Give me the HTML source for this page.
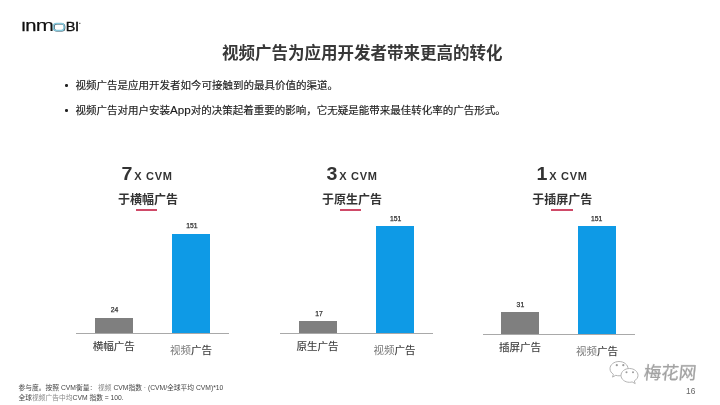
<!DOCTYPE html>
<html lang="zh">
<head>
<meta charset="utf-8">
<title>视频广告为应用开发者带来更高的转化</title>
<style>
html,body{margin:0;padding:0;}
body{width:720px;height:405px;overflow:hidden;background:#fff;position:relative;font-family:"Liberation Sans","Noto Sans CJK SC",sans-serif;color:#333;}
.abs{position:absolute;white-space:nowrap;}
.title{left:222px;top:40px;font-size:16.5px;font-weight:700;color:#383838;line-height:26px;}
.bul{font-size:10.5px;line-height:16px;color:#1c1c1c;left:75.5px;-webkit-text-stroke:.15px #1c1c1c;}
.bul i{font-style:normal;font-size:11.6px;}
.dot{width:2.4px;height:2.4px;border-radius:50%;background:#222;left:65.3px;}
.big{font-weight:700;color:#333;text-align:center;line-height:26px;width:120px;top:160.5px;}
.big .n{font-size:17.5px;display:inline-block;transform:scaleX(1.12);margin-right:.6px;}
.big .x{font-size:11px;letter-spacing:.7px;margin-left:1.5px;}
.sub{font-weight:700;font-size:12px;text-align:center;line-height:18px;color:#333;width:120px;top:191px;}
.red{height:1.5px;background:#cf4a68;top:209.2px;width:21.5px;}
.bar{position:absolute;}
.gray{background:#7f7f7f;}
.blue{background:#0e9ae6;}
.base{position:absolute;height:1px;background:#a9a9a9;top:333px;}
.val{font-size:6.8px;color:#333;text-align:center;width:40px;line-height:9px;font-weight:400;-webkit-text-stroke:.25px #333;}
.lab{font-size:10.5px;text-align:center;width:80px;line-height:16px;color:#3c3c3c;top:338px;-webkit-text-stroke:.12px #3c3c3c;}
.lab.v{color:#7a7a7a;top:341.5px;-webkit-text-stroke:0;}
.lab.v b{font-weight:400;color:#3c3c3c;-webkit-text-stroke:.12px #3c3c3c;}
.foot{font-size:6.75px;line-height:9.3px;color:#444;left:18.5px;top:383.3px;}
.foot s{text-decoration:none;color:#888;}
.pg{font-size:8.4px;color:#666;left:686px;top:386.2px;line-height:10px;}
.wm{left:643.5px;top:361px;font-size:17.5px;color:#a2a2a2;line-height:24px;font-weight:400;transform:skewX(-6deg);-webkit-text-stroke:.25px #a2a2a2;text-shadow:1px 1px 0 #fff,-1px -1px 0 #f4f4f4;}
</style>
</head>
<body>
<!-- logo -->
<svg class="abs" style="left:0;top:0" width="100" height="45" viewBox="0 0 100 45">
<g font-family="Liberation Sans, sans-serif" fill="#111" stroke="#111">
<text x="21.300" y="31.400" font-size="16.5" stroke-width=".45">ı</text>
<text x="25.200" y="31.400" font-size="16.5" stroke-width=".25" textLength="11.200" lengthAdjust="spacingAndGlyphs">n</text>
<text x="35.800" y="31.400" font-size="16.5" stroke-width=".1" textLength="18.200" lengthAdjust="spacingAndGlyphs">m</text>
<text x="65.700" y="31.400" font-size="12" stroke-width=".3" textLength="9.700" lengthAdjust="spacingAndGlyphs">B</text>
<text x="74.700" y="31.400" font-size="16.5" stroke-width=".45">ı</text>
</g>
<rect x="54" y="23.900" width="10.600" height="7" rx="2.800" fill="none" stroke="#2a3a44" stroke-width="1.400"/>
<rect x="53.500" y="23.500" width="10.600" height="7" rx="2.800" fill="none" stroke="#86c8dc" stroke-width="1.500"/>
<rect x="79.200" y="22.800" width="1.200" height="1.200" fill="#555"/>
</svg>

<div class="abs title">视频广告为应用开发者带来更高的转化</div>

<div class="abs dot" style="top:84.300px"></div>
<div class="abs bul" style="top:77px">视频广告是应用开发者如今可接触到的最具价值的渠道。</div>
<div class="abs dot" style="top:109.300px"></div>
<div class="abs bul" style="top:102px">视频广告对用户安装<i>App</i>对的决策起着重要的影响，它无疑是能带来最佳转化率的广告形式。</div>

<!-- group 1 -->
<div class="abs big" style="left:87.500px"><span class="n">7</span><span class="x">X CVM</span></div>
<div class="abs sub" style="left:88px">于横幅广告</div>
<div class="abs red" style="left:135.800px"></div>
<div class="bar gray" style="left:95px;width:38px;top:317.500px;height:15.500px"></div>
<div class="bar blue" style="left:171.700px;width:38.300px;top:233.500px;height:99.500px"></div>
<div class="base" style="left:75.500px;width:153.500px"></div>
<div class="abs val" style="left:94.600px;top:305.300px">24</div>
<div class="abs val" style="left:171.800px;top:221.200px">151</div>
<div class="abs lab" style="left:73.800px">横幅广告</div>
<div class="abs lab v" style="left:151px">视频<b>广告</b></div>

<!-- group 2 -->
<div class="abs big" style="left:292.500px"><span class="n">3</span><span class="x">X CVM</span></div>
<div class="abs sub" style="left:292px">于原生广告</div>
<div class="abs red" style="left:339.500px"></div>
<div class="bar gray" style="left:299.300px;width:38.200px;top:321.300px;height:11.700px"></div>
<div class="bar blue" style="left:376.300px;width:38.200px;top:225.800px;height:107.200px"></div>
<div class="base" style="left:280px;width:153px"></div>
<div class="abs val" style="left:299.100px;top:308.800px">17</div>
<div class="abs val" style="left:375.700px;top:213.600px">151</div>
<div class="abs lab" style="left:277.500px">原生广告</div>
<div class="abs lab v" style="left:354.600px">视频<b>广告</b></div>

<!-- group 3 -->
<div class="abs big" style="left:502.500px"><span class="n">1</span><span class="x">X CVM</span></div>
<div class="abs sub" style="left:502.200px">于插屏广告</div>
<div class="abs red" style="left:551.200px"></div>
<div class="bar gray" style="left:501.300px;width:38px;top:312px;height:22px"></div>
<div class="bar blue" style="left:578px;width:38px;top:226.300px;height:108px"></div>
<div class="base" style="left:482.500px;width:152.500px;top:333.500px"></div>
<div class="abs val" style="left:500.400px;top:300.300px">31</div>
<div class="abs val" style="left:576.700px;top:214.300px">151</div>
<div class="abs lab" style="left:480px;top:339px">插屏广告</div>
<div class="abs lab v" style="left:557px;top:342.500px">视频<b>广告</b></div>

<div class="abs foot">参与度。按照 CVM衡量： <s>视频</s> CVM指数 <s>·</s> (CVM/全球平均 CVM)*10<br>全球<s>视频广告中均</s>CVM 指数 = 100.</div>
<div class="abs pg">16</div>

<!-- watermark -->
<svg class="abs" style="left:608px;top:358px" width="34" height="30" viewBox="0 0 34 30">
<g fill="#fff" stroke="#b4b4b4" stroke-width="1">
<path d="M11 3.500c-5 0-9 3.200-9 7.200 0 2.300 1.300 4.300 3.400 5.600l-.9 2.800 3.300-1.800c1 .3 2.100.5 3.200.5 5 0 9-3.200 9-7.100S16 3.500 11 3.500z"/>
<path d="M21.500 10.500c-4.700 0-8.500 3.100-8.500 6.900s3.800 6.900 8.500 6.900c.9 0 1.800-.1 2.600-.4l3.100 1.700-.9-2.700c2.200-1.300 3.700-3.200 3.700-5.500 0-3.800-3.800-6.900-8.500-6.900z"/>
</g>
<g fill="#9c9c9c"><circle cx="8.800" cy="7.200" r="1.100"/><circle cx="15.300" cy="7.200" r="1.100"/><circle cx="18.500" cy="14.200" r="1"/><circle cx="25" cy="14.200" r="1"/></g>
</svg>
<div class="abs wm">梅花网</div>
</body>
</html>
